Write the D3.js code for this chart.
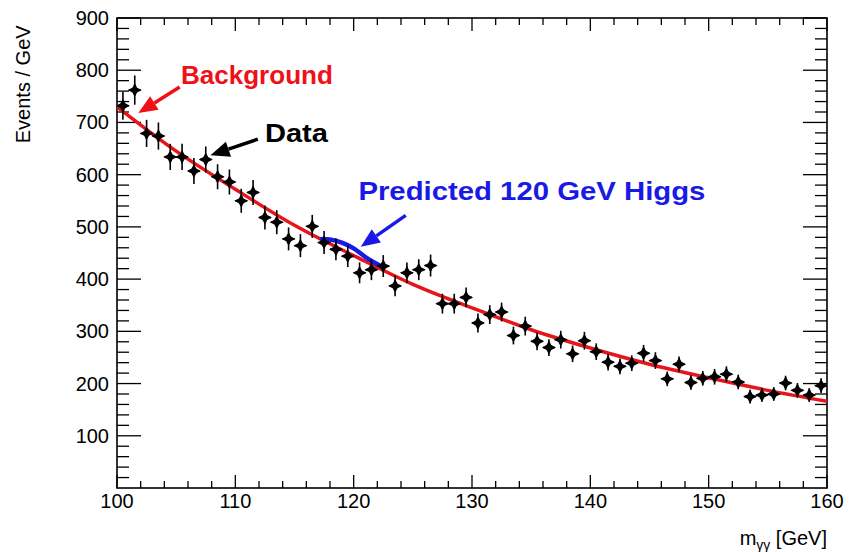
<!DOCTYPE html>
<html>
<head>
<meta charset="utf-8">
<script src="https://cdn.jsdelivr.net/npm/d3@7"></script>
<style>
  body { margin: 0; background: #fff; }
  text { font-family: "Liberation Sans", Arial, sans-serif; }
</style>
</head>
<body>
<div id="chart"></div>
<script>
// DATA: diphoton mass histogram, 1 GeV bins
const binCenters = [100.5, 101.5, 102.5, 103.5, 104.5, 105.5, 106.5, 107.5, 108.5, 109.5,
                    110.5, 111.5, 112.5, 113.5, 114.5, 115.5, 116.5, 117.5, 118.5, 119.5,
                    120.5, 121.5, 122.5, 123.5, 124.5, 125.5, 126.5, 127.5, 128.5, 129.5,
                    130.5, 131.5, 132.5, 133.5, 134.5, 135.5, 136.5, 137.5, 138.5, 139.5,
                    140.5, 141.5, 142.5, 143.5, 144.5, 145.5, 146.5, 147.5, 148.5, 149.5,
                    150.5, 151.5, 152.5, 153.5, 154.5, 155.5, 156.5, 157.5, 158.5, 159.5];
const counts = [732, 762, 679, 674, 634, 634, 607, 629, 596, 586,
                550, 566, 518, 509, 477, 464, 501, 470, 457, 444,
                412, 418, 425, 387, 412, 418, 426, 353, 353, 365,
                316, 332, 337, 292, 310, 281, 269, 284, 257, 282,
                261, 241, 233, 239, 258, 244, 209, 237, 202, 210,
                213, 218, 203, 175, 178, 180, 201, 187, 178, 196];
const errors = [27, 28, 26, 26, 25, 25, 25, 25, 24, 24,
                23, 24, 23, 23, 22, 22, 22, 22, 21, 21,
                20, 20, 21, 20, 20, 20, 21, 19, 19, 19,
                18, 18, 18, 17, 18, 17, 16, 17, 16, 17,
                16, 16, 15, 15, 16, 16, 14, 15, 14, 14,
                15, 15, 14, 13, 13, 13, 14, 14, 13, 14];
const binHalfWidth = 0.5;

// background fit
const bkgMass = [100, 105, 110, 115, 120, 125, 130, 135, 140, 145, 150, 155, 160];
const bkgEvents = [730, 645, 572, 503, 445, 390, 345, 303, 268, 237, 211, 187, 166];

// predicted higgs (signal + background), blue curve
const higgsMass = [117.3, 118, 119, 120, 121, 122.2];
const higgsEvents = [477, 476, 470, 459, 442, 426];

const xTicks = [100, 110, 120, 130, 140, 150, 160];
const yTicks = [100, 200, 300, 400, 500, 600, 700, 800, 900];

// LAYOUT
const width = 856, height = 552;
const margin = {top: 18, right: 29, bottom: 64, left: 117};
const plotW = width - margin.left - margin.right;
const plotH = height - margin.top - margin.bottom;

const svg = d3.select("#chart").append("svg")
    .attr("width", width)
    .attr("height", height);

const x = d3.scaleLinear().domain([100, 160]).range([margin.left, margin.left + plotW]);
const y = d3.scaleLinear().domain([0, 900]).range([margin.top + plotH, margin.top]);

svg.append("clipPath").attr("id", "plotClip")
    .append("rect")
    .attr("x", margin.left).attr("y", margin.top)
    .attr("width", plotW).attr("height", plotH);

// AXES - ticks on all four sides, ROOT style
const xMinor = d3.range(100, 160.01, 2);
const yMinor = d3.range(0, 900.01, 20);

function tickLines(g, vals, horizontal, len) {
    g.selectAll("line").data(vals).enter().append("line")
        .attr("x1", d => horizontal ? x(d) : 0)
        .attr("x2", d => horizontal ? x(d) : len)
        .attr("y1", d => horizontal ? 0 : y(d))
        .attr("y2", d => horizontal ? len : y(d))
        .attr("stroke", "#000")
        .attr("stroke-width", 1.3);
}

const axes = svg.append("g");
tickLines(axes.append("g").attr("transform", `translate(0,${margin.top + plotH})`), xMinor.filter(v => v % 10 !== 0), true, -7);
tickLines(axes.append("g").attr("transform", `translate(0,${margin.top + plotH})`), xTicks, true, -13);
tickLines(axes.append("g").attr("transform", `translate(0,${margin.top})`), xMinor.filter(v => v % 10 !== 0), true, 7);
tickLines(axes.append("g").attr("transform", `translate(0,${margin.top})`), xTicks, true, 13);
tickLines(axes.append("g").attr("transform", `translate(${margin.left},0)`), yMinor.filter(v => v % 100 !== 0), false, 12);
tickLines(axes.append("g").attr("transform", `translate(${margin.left},0)`), yTicks, false, 24);
tickLines(axes.append("g").attr("transform", `translate(${margin.left + plotW},0)`), yMinor.filter(v => v % 100 !== 0), false, -12);
tickLines(axes.append("g").attr("transform", `translate(${margin.left + plotW},0)`), yTicks, false, -24);

// frame
svg.append("rect")
    .attr("x", margin.left).attr("y", margin.top)
    .attr("width", plotW).attr("height", plotH)
    .attr("fill", "none")
    .attr("stroke", "#000")
    .attr("stroke-width", 1.6);

// tick labels
svg.append("g").selectAll("text").data(xTicks).enter().append("text")
    .attr("x", d => x(d))
    .attr("y", margin.top + plotH + 20)
    .attr("text-anchor", "middle")
    .attr("font-size", 20)
    .text(d => d);

svg.append("g").selectAll("text").data(yTicks).enter().append("text")
    .attr("x", margin.left - 8)
    .attr("y", d => y(d) + 7)
    .attr("text-anchor", "end")
    .attr("font-size", 20)
    .text(d => d);

// axis titles
svg.append("text")
    .attr("transform", `translate(30, ${y(773)}) rotate(-90)`)
    .attr("text-anchor", "middle")
    .attr("font-size", 20)
    .text("Events / GeV");

const xTitle = svg.append("text")
    .attr("x", margin.left + plotW)
    .attr("y", 545)
    .attr("text-anchor", "end")
    .attr("font-size", 20);
xTitle.append("tspan").text("m");
xTitle.append("tspan").attr("font-size", 14).attr("dy", 5).text("γγ");
xTitle.append("tspan").attr("dy", -5).text(" [GeV]");

// CURVES
const plot = svg.append("g").attr("clip-path", "url(#plotClip)");
const line = d3.line().x(d => x(d[0])).y(d => y(d[1])).curve(d3.curveMonotoneX);

plot.append("path")
    .datum(bkgMass.map((m, i) => [m, bkgEvents[i]]))
    .attr("d", line)
    .attr("fill", "none")
    .attr("stroke", "#e8141c")
    .attr("stroke-width", 3.5);

plot.append("path")
    .datum(higgsMass.map((m, i) => [m, higgsEvents[i]]))
    .attr("d", line)
    .attr("fill", "none")
    .attr("stroke", "#1a1ae6")
    .attr("stroke-width", 4.5)
    .attr("stroke-linecap", "round");

// DATA POINTS
const pts = plot.selectAll(".pt").data(binCenters.map((c, i) => ({c: c, n: counts[i], e: errors[i]})))
    .enter().append("g").attr("class", "pt");

pts.append("line")
    .attr("x1", d => x(d.c)).attr("x2", d => x(d.c))
    .attr("y1", d => y(d.n - d.e)).attr("y2", d => y(d.n + d.e))
    .attr("stroke", "#000").attr("stroke-width", 1.6);

pts.append("line")
    .attr("x1", d => x(d.c - binHalfWidth)).attr("x2", d => x(d.c + binHalfWidth))
    .attr("y1", d => y(d.n)).attr("y2", d => y(d.n))
    .attr("stroke", "#000").attr("stroke-width", 1.6);

const s = 7, k = 2.4;
const starPath = `M0,${-s}L${k},${-k}L${s},0L${k},${k}L0,${s}L${-k},${k}L${-s},0L${-k},${-k}Z`;
pts.append("path")
    .attr("d", starPath)
    .attr("transform", d => `translate(${x(d.c)},${y(d.n)})`)
    .attr("fill", "#000");

// ANNOTATIONS
function arrow(x0, y0, x1, y1, color) {
    const px0 = x(x0), py0 = y(y0), px1 = x(x1), py1 = y(y1);
    const ang = Math.atan2(py1 - py0, px1 - px0);
    const hl = 19, hw = 8;
    const bx = px1 - hl * Math.cos(ang), by = py1 - hl * Math.sin(ang);
    svg.append("line")
        .attr("x1", px0).attr("y1", py0).attr("x2", bx).attr("y2", by)
        .attr("stroke", color).attr("stroke-width", 3.5);
    svg.append("path")
        .attr("d", `M${px1},${py1}L${bx + hw * Math.sin(ang)},${by - hw * Math.cos(ang)}L${bx - hw * Math.sin(ang)},${by + hw * Math.cos(ang)}Z`)
        .attr("fill", color);
}

function label(txt, xv, yv, len, color) {
    svg.append("text")
        .attr("x", x(xv)).attr("y", y(yv))
        .attr("font-family", "'DejaVu Sans', sans-serif")
        .attr("font-weight", "bold")
        .attr("font-size", 25)
        .attr("textLength", len)
        .attr("lengthAdjust", "spacingAndGlyphs")
        .attr("fill", color)
        .text(txt);
}

label("Background", 105.4, 773, 152, "#f01018");
arrow(105.3, 768, 101.8, 718, "#f01018");

label("Data", 112.5, 662, 63, "#000");
arrow(111.9, 668, 107.9, 637, "#000");

label("Predicted 120 GeV Higgs", 120.4, 551, 347, "#1a1ae6");
arrow(124.4, 522, 120.6, 462, "#1a1ae6");
</script>
</body>
</html>
